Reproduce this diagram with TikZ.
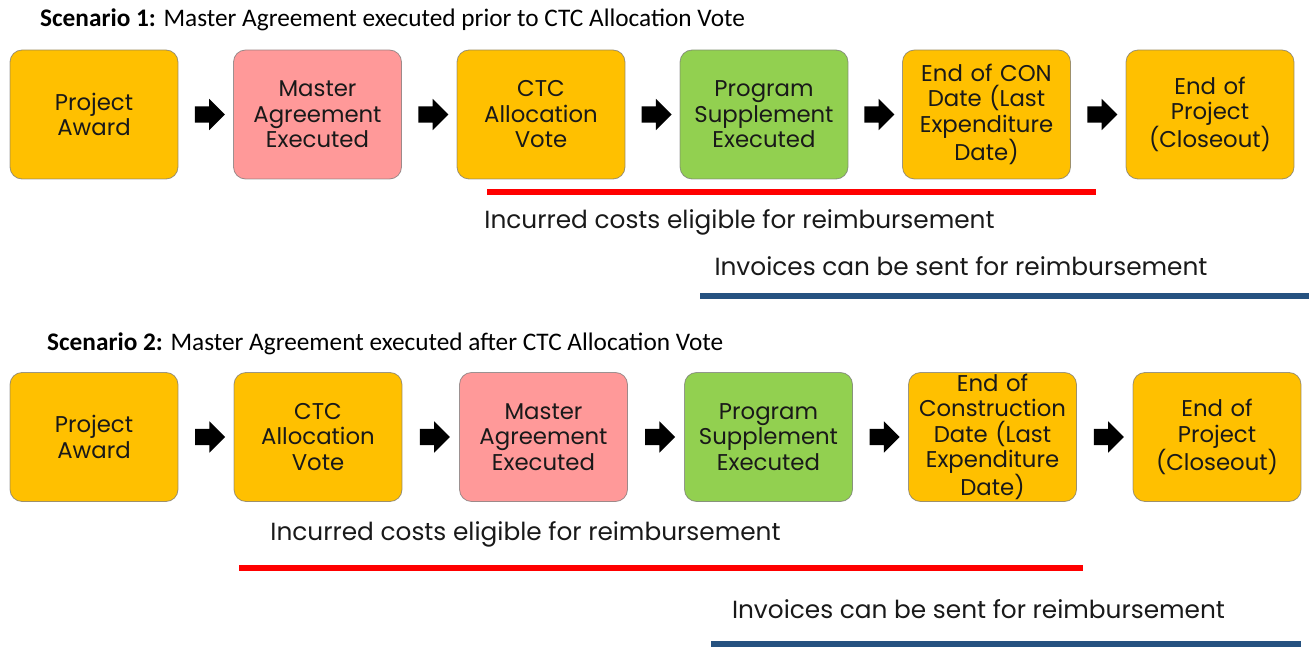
\documentclass[tikz,border=0pt]{standalone}
\usepackage{fontspec}
\setmainfont{Poppins}
\newfontfamily\titlefont{Carlito}
\usetikzlibrary{shapes.arrows,calc}
\definecolor{gold}{RGB}{255,192,0}
\definecolor{rose}{RGB}{255,153,153}
\definecolor{leaf}{RGB}{146,208,80}
\definecolor{navy}{RGB}{38,82,128}
\newcommand{\bw}{168pt}
\newcommand{\bh}{129pt}

\begin{document}
\begin{tikzpicture}[x=1pt,y=-1pt,
    step box/.style={draw=black!55, draw opacity=0.7, line width=0.8pt, rectangle, rounded corners=12pt, minimum width=\bw, minimum height=\bh, inner sep=0pt, align=center, text width=\bw, font=\fontsize{22.8}{25.5}\selectfont, text=black!90},
    blockarrow/.style={single arrow, fill=black, draw=none, inner xsep=0pt, inner ysep=8pt, minimum height=30pt, single arrow head extend=7.5pt},
    span/.style={line width=6pt},
    caption/.style={anchor=base, inner sep=0pt, font=\fontsize{24.8}{26}\selectfont, text=black!90},
    heading/.style={anchor=base west, inner sep=0pt, font=\titlefont\fontsize{25.3}{28}\selectfont}]
    \useasboundingbox (0,0) rectangle (1309,647);

    % First scenario
    \node[heading] (title-1) at (40,26.5) {\textbf{Scenario 1:} Master Agreement executed prior to CTC Allocation Vote};

    \node[step box, fill=gold] (box-1-1) at (94,114.5) {Project\\Award};
    \node[step box, fill=rose] (box-1-2) at (317.5,114.5) {Master\\Agreement\\Executed};
    \node[step box, fill=gold] (box-1-3) at (541,114.5) {CTC\\Allocation\\Vote};
    \node[step box, fill=leaf] (box-1-4) at (764,114.5) {Program\\Supplement\\Executed};
    \node[step box, fill=gold] (box-1-5) at (986.5,114.5) {End of CON\\Date (Last\\Expenditure\\Date)};
    \node[step box, fill=gold] (box-1-6) at (1210,114.5) {End of\\Project\\(Closeout)};

    \node[blockarrow] (arrow-1-1) at ($(box-1-1.east)!0.5!(box-1-2.west)$) {};
    \node[blockarrow] (arrow-1-2) at ($(box-1-2.east)!0.5!(box-1-3.west)$) {};
    \node[blockarrow] (arrow-1-3) at ($(box-1-3.east)!0.5!(box-1-4.west)$) {};
    \node[blockarrow] (arrow-1-4) at ($(box-1-4.east)!0.5!(box-1-5.west)$) {};
    \node[blockarrow] (arrow-1-5) at ($(box-1-5.east)!0.5!(box-1-6.west)$) {};

    \draw[span, red] (487,192) -- (1096,192);
    \node[caption] (costs-1) at (739.5,228.5) {Incurred costs eligible for reimbursement};
    \node[caption] (invoices-1) at (961,275.5) {Invoices can be sent for reimbursement};
    \draw[span, navy] (700,296) -- (1309,296);

    % Second scenario
    \node[heading] (title-2) at (47,350) {\textbf{Scenario 2:} Master Agreement executed after CTC Allocation Vote};

    \node[step box, fill=gold] (box-2-1) at (94,437) {Project\\Award};
    \node[step box, fill=gold] (box-2-2) at (318,437) {CTC\\Allocation\\Vote};
    \node[step box, fill=rose] (box-2-3) at (543.5,437) {Master\\Agreement\\Executed};
    \node[step box, fill=leaf] (box-2-4) at (768.5,437) {Program\\Supplement\\Executed};
    \node[step box, fill=gold] (box-2-5) at (992.5,437) {End of\\Construction\\Date (Last\\Expenditure\\Date)};
    \node[step box, fill=gold] (box-2-6) at (1217,437) {End of\\Project\\(Closeout)};

    \node[blockarrow] (arrow-2-1) at ($(box-2-1.east)!0.5!(box-2-2.west)$) {};
    \node[blockarrow] (arrow-2-2) at ($(box-2-2.east)!0.5!(box-2-3.west)$) {};
    \node[blockarrow] (arrow-2-3) at ($(box-2-3.east)!0.5!(box-2-4.west)$) {};
    \node[blockarrow] (arrow-2-4) at ($(box-2-4.east)!0.5!(box-2-5.west)$) {};
    \node[blockarrow] (arrow-2-5) at ($(box-2-5.east)!0.5!(box-2-6.west)$) {};

    \node[caption] (costs-2) at (525.5,540) {Incurred costs eligible for reimbursement};
    \draw[span, red] (239,567.5) -- (1083,567.5);
    \node[caption] (invoices-2) at (978.5,618) {Invoices can be sent for reimbursement};
    \draw[span, navy] (711,644) -- (1301,644);

\end{tikzpicture}
\end{document}
